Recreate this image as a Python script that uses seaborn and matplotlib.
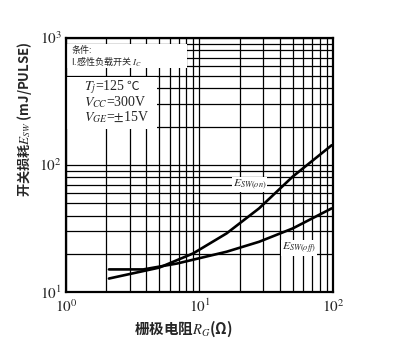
import numpy as np
import pandas as pd
import matplotlib
matplotlib.use("Agg")
import matplotlib.pyplot as plt
from matplotlib.patches import Rectangle
from matplotlib.ticker import FixedLocator, NullFormatter, LogLocator
import seaborn as sns

# Gate resistance (ohm) and switching energies (mJ/pulse)
rg_on = [2.1, 5.0, 9.0, 16, 28, 50, 98]
e_on = [12.8, 15.6, 20.2, 29, 45.6, 81, 143]
rg_off = [2.1, 3.8, 6.8, 16, 28, 50, 98]
e_off = [15.1, 15.1, 16.8, 20.8, 24.9, 31.7, 45.6]

x_ticks = [1, 10, 100]
x_tick_labels = ["$10^0$", "$10^1$", "$10^2$"]
y_ticks = [10, 100, 1000]
y_tick_labels = ["$10^1$", "$10^2$", "$10^3$"]

sns.set_theme(style="white")
plt.rcParams["font.family"] = ["Noto Sans CJK SC", "DejaVu Sans"]
plt.rcParams["mathtext.fontset"] = "stix"

df = pd.concat([
    pd.DataFrame({"Rg": rg_on, "E": e_on, "curve": "on"}),
    pd.DataFrame({"Rg": rg_off, "E": e_off, "curve": "off"}),
])

fig = plt.figure(figsize=(4.02, 3.47), dpi=100)
ax = fig.add_axes([0.164, 0.158, 0.664, 0.733])
ax.set_xscale("log")
ax.set_yscale("log")
ax.set_xlim(1, 100)
ax.set_ylim(10, 1000)

# log grid, major and minor
ax.xaxis.set_minor_locator(LogLocator(base=10, subs=np.arange(2, 10)))
ax.yaxis.set_minor_locator(LogLocator(base=10, subs=np.arange(2, 10)))
ax.grid(which="both", color="black", linewidth=0.9)
ax.set_axisbelow(True)

sns.lineplot(data=df, x="Rg", y="E", hue="curve", palette=["black", "black"],
             linewidth=1.9, legend=False, ax=ax, estimator=None, sort=True)

ax.xaxis.set_major_locator(FixedLocator(x_ticks))
ax.yaxis.set_major_locator(FixedLocator(y_ticks))
ax.set_xticklabels(x_tick_labels, fontsize=11)
ax.set_yticklabels(y_tick_labels, fontsize=11)
ax.xaxis.set_minor_formatter(NullFormatter())
ax.yaxis.set_minor_formatter(NullFormatter())
ax.tick_params(which="both", length=0)
ax.tick_params(axis="y", pad=3)
ax.tick_params(axis="x", pad=5)
for s in ax.spines.values():
    s.set_color("black")
    s.set_linewidth(1.6)

ax.set_xlabel("栅极电阻$R_G$(Ω)", fontsize=10.5, fontweight="bold")
ax.set_ylabel("开关损耗$E_{SW}$ (mJ/PULSE)", fontsize=9.5, fontweight="bold")
ax.xaxis.set_label_coords(0.44, -0.105)
ax.yaxis.set_label_coords(-0.12, 0.68)

# white panels behind the condition notes
for (x0, y0, w, h) in [(0.0, 0.882, 0.455, 0.094), (0.0, 0.64, 0.34, 0.205)]:
    ax.add_patch(Rectangle((x0, y0), w, h, transform=ax.transAxes,
                           facecolor="white", edgecolor="none", zorder=2))

ax.text(0.02, 0.949, "条件:", transform=ax.transAxes, fontsize=6.5,
        va="center", ha="left", zorder=3)
ax.text(0.02, 0.909, "I.感性负载开关 $I_C$", transform=ax.transAxes,
        fontsize=6.5, va="center", ha="left", zorder=3)

serif = ["Liberation Serif"]
t1 = ax.text(0.067, 0.808, "$T_j$=125", transform=ax.transAxes, fontsize=10,
             va="center", ha="left", family=serif, zorder=3)
ax.annotate("℃", xy=(1.0, 0.5), xycoords=t1, xytext=(1, 0),
            textcoords="offset points", fontsize=9, va="center",
            ha="left", family=["Noto Sans CJK SC"], zorder=3)
ax.text(0.067, 0.748, "$V_{CC}$=300V", transform=ax.transAxes, fontsize=10,
        va="center", ha="left", family=serif, zorder=3)
ax.text(0.067, 0.688, "$V_{GE}$=$\\pm$15V", transform=ax.transAxes,
        fontsize=10, va="center", ha="left", family=serif, zorder=3)

# curve labels
ax.text(17.8, 70, "$E_{SW(on)}$", fontsize=8.5, va="center", ha="left",
        bbox=dict(facecolor="white", edgecolor="none", pad=0.6))
ax.text(41.5, 22.2, "$E_{SW(off)}$", fontsize=8.5, va="center", ha="left",
        bbox=dict(facecolor="white", edgecolor="none", pad=0.6))

fig.savefig("out.png", dpi=100, facecolor="white")
